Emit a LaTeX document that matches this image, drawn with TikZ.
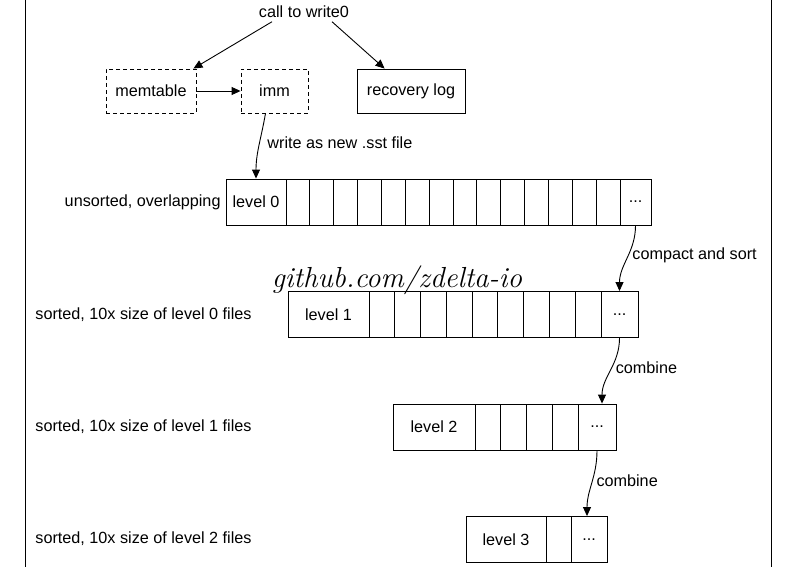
\documentclass[tikz,border=0pt]{standalone}
\usepackage{fontspec}
\setsansfont{Liberation Sans}
\usetikzlibrary{arrows.meta}

\begin{document}
\begin{tikzpicture}
[x=1pt,y=-1pt,>={Triangle[length=9pt,width=8pt]},line width=0.9pt,
 every node/.style={font=\sffamily\fontsize{16.2}{19}\selectfont},
 dashbox/.style={draw,dash pattern=on 4pt off 3pt,minimum height=44pt,inner sep=0pt},
 solidbox/.style={draw,minimum height=44pt,inner sep=0pt},
 cell/.style={draw,inner sep=0pt,minimum height=46pt,minimum width=#1},
 rowlabel/.style={inner sep=0pt}]
\useasboundingbox (0,0) rectangle (797,567);
\draw[line width=1pt] (25,0) -- (25,567);
\draw[line width=1pt] (771,0) -- (771,567);

\node (call) at (304,12) {call to write0};
\node[dashbox,minimum width=90pt] (mem) at (151,91) {memtable};
\node[dashbox,minimum width=67pt] (imm) at (274.5,91) {imm};
\node[solidbox,minimum width=108pt] (rec) at (411,91) {recovery log};

\node[cell=60pt] (l0) at (256,202) {level 0};
\foreach \i in {0,...,13}
  \node[cell=23.86pt] (l0c\i) at ({286+23.86*(\i+.5)},202) {};
\node[cell=31pt] (l0d) at (635.5,202) {...};
\node[rowlabel,anchor=east] (lab0) at (221,202) {unsorted, overlapping};

\node[cell=81pt] (l1) at (328.5,314.5) {level 1};
\foreach \i in {0,...,8}
  \node[cell=25.78pt] (l1c\i) at ({369+25.78*(\i+.5)},314.5) {};
\node[cell=37pt] (l1d) at (619.5,314.5) {...};
\node[rowlabel,anchor=west] (lab1) at (35,315) {sorted, 10x size of level 0 files};

\node[cell=82pt] (l2) at (434,427) {level 2};
\foreach \i in {0,...,3}
  \node[cell=25.75pt] (l2c\i) at ({475+25.75*(\i+.5)},427) {};
\node[cell=38pt] (l2d) at (597,427) {...};
\node[rowlabel,anchor=west] (lab2) at (35,427) {sorted, 10x size of level 1 files};

\node[cell=80pt] (l3) at (506,539.5) {level 3};
\node[cell=25pt] (l3c0) at (558.5,539.5) {};
\node[cell=36pt] (l3d) at (589,539.5) {...};
\node[rowlabel,anchor=west] (lab3) at (35,539) {sorted, 10x size of level 2 files};

\draw[->] ([xshift=-32pt]call.south) -- ([xshift=-3pt]mem.north east);
\draw[->] ([xshift=28pt]call.south) -- ([xshift=28pt]rec.north west);
\draw[->] (mem) -- (imm);
\draw[->] ([xshift=-9pt]imm.south) to[out=-100,in=90]
  node[right,pos=.45,xshift=4pt] {write as new .sst file} (l0.north);
\draw[->] (l0d.south) to[out=-90,in=90]
  node[right,pos=.45] {compact and sort} (l1d.north);
\draw[->] (l1d.south) to[out=-90,in=90]
  node[right,pos=.45] {combine} ([xshift=5pt]l2d.north);
\draw[->] (l2d.south) to[out=-90,in=90]
  node[right,pos=.45] {combine} ([xshift=-2pt]l3d.north);

\node (wm) at (397,280) {\rmfamily\itshape\fontsize{29}{29}\selectfont github.com/zdelta-io};
\end{tikzpicture}
\end{document}
